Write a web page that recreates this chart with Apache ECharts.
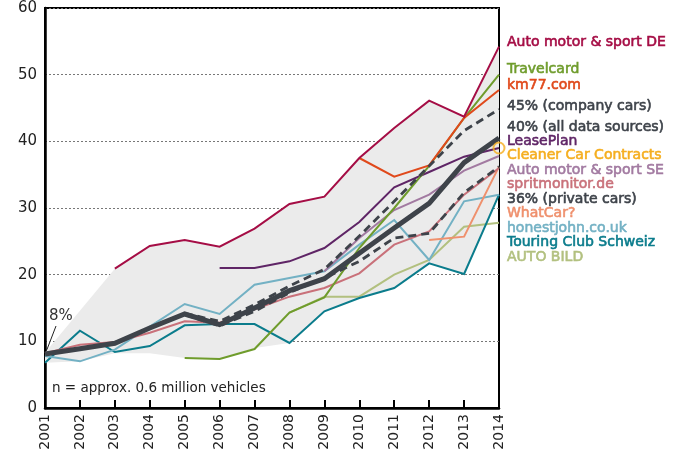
<!DOCTYPE html>
<html>
<head>
<meta charset="utf-8">
<script src="https://cdn.jsdelivr.net/npm/echarts@6/dist/echarts.min.js"></script>
<style>
  html, body { margin: 0; padding: 0; background: #fff; }
  #main { width: 680px; height: 454px; }
</style>
</head>
<body>
<div id="main"></div>
<script>
// years and series values (percent)
var years = ['2001','2002','2003','2004','2005','2006','2007','2008','2009','2010','2011','2012','2013','2014'];

var amsDE       = [null, null, 20.9, 24.3, 25.2, 24.2, 26.9, 30.6, 31.7, 37.5, 42.0, 46.1, 43.7, 54.2];
var travelcard  = [null, null, null, null, 7.5, 7.35, 8.85, 14.3, 16.6, 24.0, 30.0, 36.3, 43.5, 50.0];
var km77        = [null, null, null, null, null, null, null, null, null, 37.5, 34.7, 36.4, 43.5, 47.7];
var company45   = [null, null, null, null, 14.2, 13.0, 15.5, 18.3, 20.8, 25.8, 31.0, 36.3, 41.6, 44.8];
var all40       = [8.1, 8.9, 9.7, 12.0, 14.1, 12.5, 15.0, 17.6, 19.4, 23.2, 27.0, 30.7, 36.8, 40.5];
var leasePlan   = [null, null, null, null, null, 21.0, 21.0, 22.0, 24.0, 27.9, 33.1, 35.4, 37.7, 39.0];
var cleanerCar  = [null, null, null, null, null, null, null, null, null, null, null, null, null, 39.0];
var amsSE       = [null, null, null, null, null, null, null, null, 20.5, 25.5, 29.7, 32.0, 35.6, 37.8];
var spritmon    = [8.2, 9.5, 9.9, 11.3, 13.0, 12.8, 14.8, 16.7, 18.0, 20.2, 24.5, 26.5, 32.0, 36.0];
var private36   = [null, null, null, null, 14.0, 12.3, 14.5, 17.3, 19.5, 22.0, 25.5, 26.2, 32.3, 36.2];
var whatCar     = [null, null, null, null, null, null, null, null, null, null, null, 25.2, 25.7, 36.2];
var honestJohn  = [7.8, 7.0, 8.75, 12.2, 15.6, 14.1, 18.5, 19.5, 20.5, 24.5, 28.2, 22.2, 31.0, 32.0];
var touring     = [6.8, 11.6, 8.4, 9.3, 12.4, 12.6, 12.6, 9.75, 14.5, 16.5, 18.0, 21.7, 20.1, 32.0];
var autoBild    = [null, null, null, null, null, null, null, 14.3, 16.7, 16.7, 20.0, 22.2, 27.2, 27.8];

// grey range band
var bandUpper = [8.3, 14.6, 20.9, 24.3, 25.2, 24.2, 26.9, 30.6, 31.7, 37.5, 42.0, 46.1, 43.7, 54.2];
var bandLower = [6.8, 7.0, 8.2, 8.2, 7.5, 7.4, 9.0, 9.75, 14.5, 16.5, 18.0, 21.7, 20.1, 32.0];

var yTicks = [0, 10, 20, 30, 40, 50, 60];

var FONT = 'DejaVu Sans';
var DARK = '#3e434a';

var bandDiff = bandUpper.map(function (v, i) { return +(v - bandLower[i]).toFixed(2); });

function line(name, data, color, width, z, dash) {
	return {
		name: name,
		type: 'line',
		data: data,
		showSymbol: false,
		symbol: 'none',
		z: z || 3,
		lineStyle: { color: color, width: width || 2, type: dash || 'solid', cap: 'butt', join: 'miter' },
		emphasis: { disabled: true },
		silent: true
	};
}

// labels on the right: [text, color, y centre]
var labels = [
	['Auto motor & sport DE', '#a50d45', 42],
	['Travelcard', '#6f9c2c', 69],
	['km77.com', '#e0491b', 85],
	['45% (company cars)', DARK, 106],
	['40% (all data sources)', DARK, 127],
	['LeasePlan', '#5f2566', 141],
	['Cleaner Car Contracts', '#f5ae1f', 155],
	['Auto motor & sport SE', '#a27aa1', 170],
	['spritmonitor.de', '#c9717a', 184],
	['36% (private cars)', DARK, 199],
	['WhatCar?', '#ef906d', 213],
	['honestjohn.co.uk', '#73b1c4', 228],
	['Touring Club Schweiz', '#0b7c8c', 242],
	['AUTO BILD', '#b2c07f', 257]
];

var graphics = labels.map(function (l) {
	return {
		type: 'text', x: 507, y: l[2],
		style: {
			text: l[0], fill: l[1], stroke: l[1], lineWidth: 0.6,
			font: '14px "' + FONT + '"', verticalAlign: 'middle'
		}
	};
});
graphics.push({
	type: 'text', x: 49, y: 316,
	style: { text: '8%', fill: '#333', font: '15px "' + FONT + '"', verticalAlign: 'middle' }
});
graphics.push({
	type: 'line', shape: { x1: 56, y1: 326, x2: 46, y2: 352 },
	style: { stroke: '#222', lineWidth: 1 }
});
graphics.push({
	type: 'text', x: 52, y: 388,
	style: { text: 'n = approx. 0.6 million vehicles', fill: '#222', font: '13.5px "' + FONT + '"', verticalAlign: 'middle' }
});

var chart = echarts.init(document.getElementById('main'));

var option = {
	animation: false,
	backgroundColor: '#fff',
	grid: { left: 45, right: 181, top: 8, bottom: 46, show: true, borderColor: '#000', borderWidth: 2, backgroundColor: 'transparent' },
	xAxis: {
		type: 'category',
		data: years,
		boundaryGap: false,
		axisLine: { lineStyle: { color: '#000', width: 2.5 } },
		axisTick: { inside: true, length: 8, lineStyle: { color: '#000', width: 2 } },
		axisLabel: { rotate: 90, color: '#222', fontFamily: FONT, fontSize: 14, margin: 6 },
		splitLine: { show: false }
	},
	yAxis: {
		type: 'value',
		min: yTicks[0],
		max: yTicks[yTicks.length - 1],
		interval: 10,
		axisLine: { show: true, lineStyle: { color: '#000', width: 2.5 } },
		axisTick: { show: false },
		axisLabel: { color: '#222', fontFamily: FONT, fontSize: 15, margin: 8 },
		splitLine: { show: true, lineStyle: { color: '#777', type: [2, 2], width: 1 } }
	},
	graphic: graphics,
	series: [
		{
			name: 'bandBase', type: 'line', stack: 'band', data: bandLower,
			symbol: 'none', lineStyle: { width: 0 }, silent: true, z: 1
		},
		{
			name: 'band', type: 'line', stack: 'band', data: bandDiff,
			symbol: 'none', lineStyle: { width: 0 }, silent: true, z: 1,
			areaStyle: { color: '#ebebeb', opacity: 1 }
		},
		line('AUTO BILD', autoBild, '#b2c07f', 2),
		line('Touring Club Schweiz', touring, '#0b7c8c', 2),
		line('honestjohn.co.uk', honestJohn, '#73b1c4', 2),
		line('WhatCar?', whatCar, '#ef906d', 2),
		line('spritmonitor.de', spritmon, '#c9717a', 2),
		line('Auto motor & sport SE', amsSE, '#a27aa1', 2),
		line('LeasePlan', leasePlan, '#5f2566', 2),
		line('Travelcard', travelcard, '#6f9c2c', 2),
		line('km77.com', km77, '#e0491b', 2),
		line('Auto motor & sport DE', amsDE, '#a50d45', 2),
		line('36% (private cars)', private36, DARK, 2.8, 4, [8, 5]),
		line('45% (company cars)', company45, DARK, 2.8, 4, [8, 5]),
		line('40% (all data sources)', all40, DARK, 5, 5),
		{
			name: 'Cleaner Car Contracts', type: 'scatter', data: cleanerCar,
			symbol: 'circle', symbolSize: 11, z: 6, silent: true, clip: false,
			itemStyle: { color: 'rgba(255,255,255,0)', borderColor: '#f5ae1f', borderWidth: 2 }
		}
	]
};

chart.setOption(option);
</script>
</body>
</html>
